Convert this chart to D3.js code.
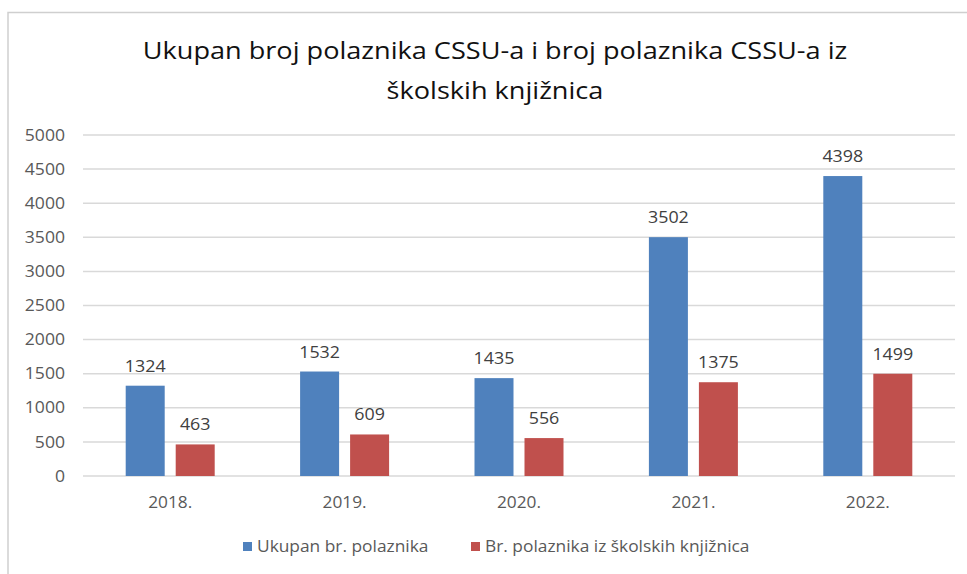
<!DOCTYPE html>
<meta charset="utf-8">
<style>
body{
  margin: 0px;
  background: white;
  font-family: "Open Sans", Lato, sans-serif;
}
svg{ display: block; }
.grid line{ stroke: #d9d9d9; stroke-width: 1.5px; }
.axis text{ fill: #595959; font-size: 16px; font-family: "Open Sans", sans-serif; }
.lbl{ fill: #404040; font-size: 17px; text-anchor: middle; }
</style>
<body>
<div id='graph'></div>

<script src="https://cdn.jsdelivr.net/npm/d3@7"></script>
<script>

var years = ['2018.', '2019.', '2020.', '2021.', '2022.']
var ukupan = [1324, 1532, 1435, 3502, 4398]
var skolske = [463, 609, 556, 1375, 1499]
var seriesNames = ['Ukupan br. polaznika', 'Br. polaznika iz školskih knjižnica']
var colors = ['#4f81bd', '#c0504d']
var yTicks = [0, 500, 1000, 1500, 2000, 2500, 3000, 3500, 4000, 4500, 5000]

var width = 967, height = 574
var svg = d3.select('#graph').append('svg')
    .attr('width', width).attr('height', height)

// the source picture is a bit wider than the font, so widen text around its anchor
function stretch(sel, k){
  sel.each(function(){
    var t = d3.select(this)
    var ax = +t.attr('x') || 0
    t.attr('transform', 'translate(' + ax + ',0) scale(' + k + ',1) translate(' + (-ax) + ',0)')
  })
}

// chart frame (runs off the right and bottom edge in the original)
svg.append('rect')
    .attr('x', 8).attr('y', 12.5)
    .attr('width', 990).attr('height', 600)
    .attr('fill', 'white').attr('stroke', '#cfcfcf').attr('stroke-width', 1.5)

var title = svg.append('g')
title.append('text')
    .attr('x', 495).attr('y', 59)
    .text('Ukupan broj polaznika CSSU-a i broj polaznika CSSU-a iz')
title.append('text')
    .attr('x', 495).attr('y', 99)
    .text('školskih knjižnica')
title.selectAll('text')
    .attr('text-anchor', 'middle').attr('font-size', 24).attr('fill', '#111')
    .call(stretch, 1.13)

var x = d3.scaleBand().domain(years).range([83, 955])
var y = d3.scaleLinear().domain([0, 5000]).range([476, 135])

var grid = svg.append('g').attr('class', 'grid')
grid.selectAll('line').data(yTicks).join('line')
    .attr('x1', 83).attr('x2', 955)
    .attr('y1', d => y(d)).attr('y2', d => y(d))

var yAxis = svg.append('g').attr('class', 'axis')
    .attr('transform', 'translate(69,0)')
    .call(d3.axisLeft(y).tickValues(yTicks).tickFormat(d3.format('d')).tickSize(0).tickPadding(4))
yAxis.select('.domain').remove()
yAxis.selectAll('text').call(stretch, 1.1)

var xAxis = svg.append('g').attr('class', 'axis')
    .attr('transform', 'translate(0,476)')
    .call(d3.axisBottom(x).tickSize(0).tickPadding(21))
xAxis.select('.domain').remove()
xAxis.selectAll('text').call(stretch, 1.08)

var barW = 39, gap = 11
var series = [ukupan, skolske]
series.forEach(function(vals, s){
  var off = s == 0 ? -gap/2 - barW : gap/2
  var g = svg.append('g')
  g.selectAll('rect').data(vals).join('rect')
      .attr('x', (d, i) => x(years[i]) + x.bandwidth()/2 + off)
      .attr('y', d => y(d))
      .attr('width', barW)
      .attr('height', d => y(0) - y(d))
      .attr('fill', colors[s])
  g.selectAll('text').data(vals).join('text')
      .attr('class', 'lbl')
      .attr('x', (d, i) => x(years[i]) + x.bandwidth()/2 + off + barW/2)
      .attr('y', d => y(d) - 14)
      .text(d => d)
      .call(stretch, 1.05)
})

// legend
var legX = [243, 471]
var leg = svg.append('g')
seriesNames.forEach(function(n, i){
  leg.append('rect')
      .attr('x', legX[i]).attr('y', 542)
      .attr('width', 9).attr('height', 9)
      .attr('fill', colors[i])
  leg.append('text')
      .attr('x', legX[i] + 14).attr('y', 552)
      .attr('font-size', 15.5).attr('fill', '#595959')
      .text(n)
      .call(stretch, 1.12)
})

</script>
